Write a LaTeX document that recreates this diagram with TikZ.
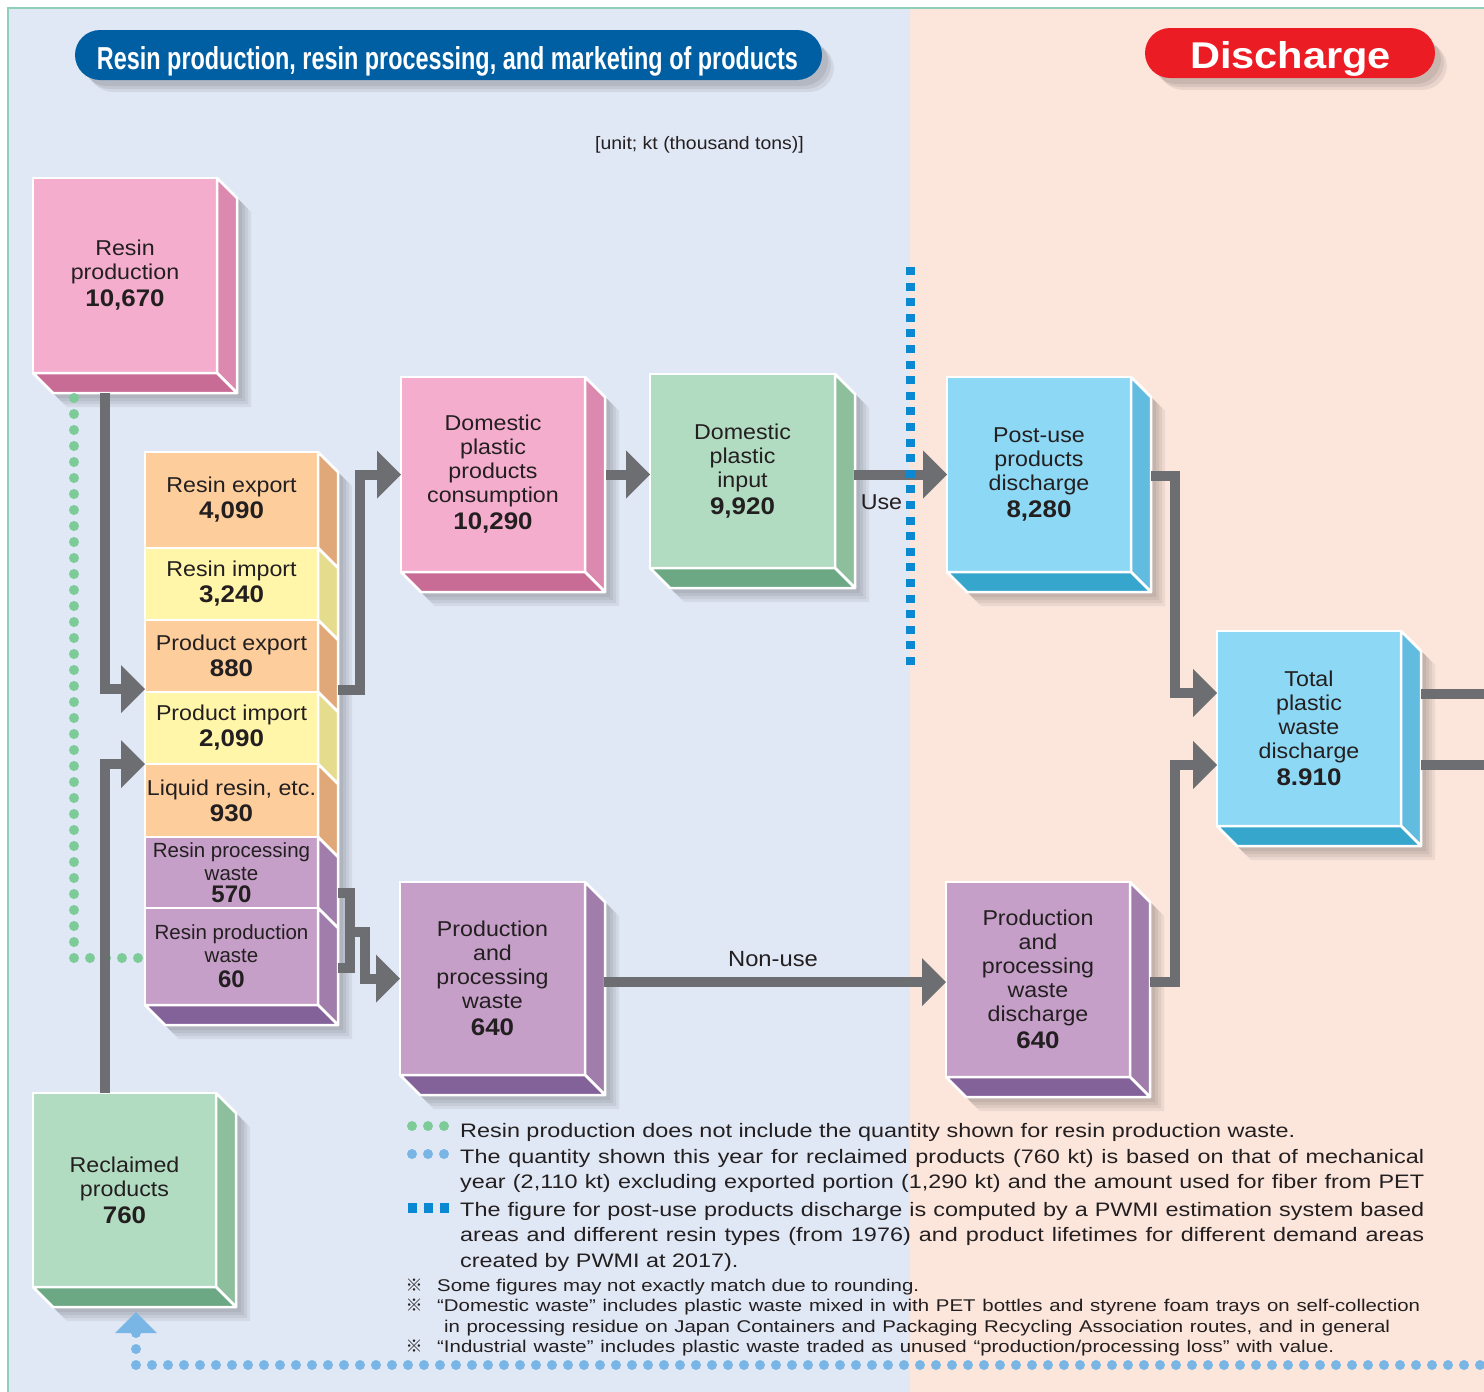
\documentclass[tikz,border=0pt]{standalone}
\usepackage{graphicx}
\usepackage{fontspec}
\setmainfont{Liberation Sans}[FakeStretch=1.08]
\newfontfamily\notefont{Liberation Sans}[FakeStretch=1.2]
\newfontfamily\plainfont{Liberation Sans}
\newfontfamily\cjkfont{Noto Sans CJK JP}
\usetikzlibrary{arrows.meta,calc}

\definecolor{bgblue}{HTML}{E1E8F5}
\definecolor{bgpeach}{HTML}{FCE6DC}
\definecolor{framegreen}{HTML}{8ED0B8}
\definecolor{titleblue}{HTML}{005FA3}
\definecolor{titlered}{HTML}{EC1C24}
\definecolor{arrowgrey}{HTML}{6D6E72}
\definecolor{txt}{HTML}{231F20}
\definecolor{pinkF}{HTML}{F4ADCD}\definecolor{pinkS}{HTML}{DB89AF}\definecolor{pinkB}{HTML}{C86C96}
\definecolor{orangeF}{HTML}{FDCE9C}\definecolor{orangeS}{HTML}{E0A878}
\definecolor{yellowF}{HTML}{FFF6AA}\definecolor{yellowS}{HTML}{E6DC8E}
\definecolor{purpleF}{HTML}{C59FC8}\definecolor{purpleS}{HTML}{A07DAB}\definecolor{purpleB}{HTML}{83629A}
\definecolor{greenF}{HTML}{B2DCC1}\definecolor{greenS}{HTML}{8DBF9C}\definecolor{greenB}{HTML}{6BA883}
\definecolor{blueF}{HTML}{8DD8F5}\definecolor{blueS}{HTML}{62BCE0}\definecolor{blueB}{HTML}{36A6CD}
\definecolor{dotgreen}{HTML}{7DCB98}
\definecolor{dotblue}{HTML}{79B6E5}
\definecolor{sqblue}{HTML}{0A88D2}

\newcommand\boxf{\fontsize{21.5}{24}\selectfont}
\newcommand\narrowf{\plainfont\fontsize{20.5}{23}\selectfont}
\newcommand\notef{\notefont\fontsize{19.5}{25}\selectfont}
\newcommand\smallnotef{\notefont\fontsize{17}{20}\selectfont}
\newcommand\numtxt[1]{{\fontsize{24}{26}\selectfont\bfseries #1}}

\tikzset{
  face/.style={draw=white, line width=2.5pt, inner sep=0pt, outer sep=0pt, align=center, text=txt, font=\boxf},
  facedge/.style={draw=white, line width=2.5pt, line join=round},
  flow/.style={draw=arrowgrey, line width=10pt, -{Triangle[length=24pt,width=48pt,line width=0pt]}},
  flowline/.style={draw=arrowgrey, line width=10pt},
  lbl/.style={inner sep=0pt, text=txt, font=\boxf},
  note/.style={inner sep=0pt, text=txt, font=\notef, anchor=base west},
  smallnote/.style={inner sep=0pt, text=txt, font=\smallnotef, anchor=base west},
  greendots/.style={draw=dotgreen, line width=10pt, line cap=round, dash pattern=on 0pt off 16pt},
  bluedots/.style={draw=dotblue, line width=10pt, line cap=round, dash pattern=on 0pt off 16pt},
}

% name, x1, y1, w, h, colour prefix, text
\newcommand\drawcube[7]{%
  \foreach \shd in {5,8,11,14}{%
    \fill[black,opacity=0.06] ({#2+\shd},{#3+\shd}) -- ++(#4,0) -- ++(20,20) -- ++(0,#5) -- ++(-#4,0) -- ++(-20,-20) -- cycle;}
  \node[face,fill=#6F,minimum width=#4pt,minimum height=#5pt,anchor=north west] (#1) at (#2,#3) {#7};
  \filldraw[facedge,fill=#6S] (#1.north east) -- ++(20,20) -- ++(0,#5) -- (#1.south east) -- cycle;
  \filldraw[facedge,fill=#6B] (#1.south west) -- (#1.south east) -- ++(20,20) -- ++(-#4,0) -- cycle;
}
\newcommand\rowside[3]{%
  \filldraw[facedge,fill=#3S] (#1.north east) -- ++(20,20) -- ++(0,#2) -- (#1.south east) -- cycle;
}

\begin{document}
\begin{tikzpicture}[x=1pt,y=-1pt]
\useasboundingbox (0,0) rectangle (1484,1392);
\clip (0,0) rectangle (1484,1392);
\fill[white] (0,0) rectangle (1484,1392);
\fill[bgblue] (8,8) rectangle (910,1392);
\fill[bgpeach] (910,8) rectangle (1484,1392);
\draw[framegreen,line width=2.5pt] (8,1392) -- (8,8) -- (1484,8);

% title pills
\foreach \k in {0,3,6}{\fill[black,opacity=0.07,rounded corners=25pt] ({82+\k},{38+\k}) rectangle ({828+\k},{86+\k});}
\fill[titleblue,rounded corners=25pt] (75,30) rectangle (822,80);
\node[anchor=base,text=white,inner sep=0pt] (title) at (447.5,69)
  {\resizebox{701pt}{23pt}{\bfseries Resin production, resin processing, and marketing of products}};
\foreach \k in {0,3,6}{\fill[black,opacity=0.07,rounded corners=25pt] ({1152+\k},{36+\k}) rectangle ({1441+\k},{84+\k});}
\fill[titlered,rounded corners=25pt] (1145,28) rectangle (1435,78);
\node[anchor=base,text=white,inner sep=0pt] (disc) at (1290.5,68)
  {\resizebox{201pt}{27pt}{\bfseries Discharge}};

\node[lbl,anchor=base west,font=\fontsize{18}{20}\selectfont] (unit) at (595,149) {[unit; kt (thousand tons)]};

% cubes
\drawcube{rp}{33}{178}{184}{195}{pink}{Resin\\production\\[3pt]\numtxt{10,670}}
\drawcube{dpc}{401}{377}{184}{195}{pink}{Domestic\\plastic\\products\\consumption\\[3pt]\numtxt{10,290}}
\drawcube{dpi}{650}{374}{185}{194}{green}{Domestic\\plastic\\input\\[3pt]\numtxt{9,920}}
\drawcube{pud}{947}{377}{184}{195}{blue}{Post-use\\products\\discharge\\[3pt]\numtxt{8,280}}
\drawcube{tot}{1217}{631}{184}{195}{blue}{Total\\plastic\\waste\\discharge\\[3pt]\numtxt{8.910}}
\drawcube{ppw}{400}{882}{185}{193}{purple}{Production\\and\\processing\\waste\\[3pt]\numtxt{640}}
\drawcube{ppwd}{946}{882}{184}{195}{purple}{Production\\and\\processing\\waste\\discharge\\[3pt]\numtxt{640}}
\drawcube{rc}{33}{1093}{183}{194}{green}{Reclaimed\\products\\[3pt]\numtxt{760}}

% stack of rows
\foreach \shd in {5,8,11,14}{%
  \fill[black,opacity=0.06] ({145+\shd},{452+\shd}) -- ++(173,0) -- ++(20,20) -- ++(0,553) -- ++(-173,0) -- ++(-20,-20) -- cycle;}
\node[face,fill=orangeF,minimum width=173pt,minimum height=96pt,anchor=north west] (re) at (145,452) {Resin export\\[2pt]\numtxt{4,090}};
\rowside{re}{96}{orange}
\node[face,fill=yellowF,minimum width=173pt,minimum height=72pt,anchor=north west] (ri) at (145,548) {Resin import\\[2pt]\numtxt{3,240}};
\rowside{ri}{72}{yellow}
\node[face,fill=orangeF,minimum width=173pt,minimum height=72pt,anchor=north west] (pe) at (145,620) {Product export\\[2pt]\numtxt{880}};
\rowside{pe}{72}{orange}
\node[face,fill=yellowF,minimum width=173pt,minimum height=72pt,anchor=north west] (pi) at (145,692) {Product import\\[2pt]\numtxt{2,090}};
\rowside{pi}{72}{yellow}
\node[face,fill=orangeF,minimum width=173pt,minimum height=73pt,anchor=north west] (lr) at (145,764) {Liquid resin, etc.\\[2pt]\numtxt{930}};
\rowside{lr}{73}{orange}
\node[face,font=\narrowf,fill=purpleF,minimum width=173pt,minimum height=71pt,anchor=north west] (rpw) at (145,837) {Resin processing\\waste\\[-1pt]\numtxt{570}};
\rowside{rpw}{71}{purple}
\node[face,font=\narrowf,fill=purpleF,minimum width=173pt,minimum height=97pt,anchor=north west] (rprw) at (145,908) {Resin production\\waste\\[2pt]\numtxt{60}};
\rowside{rprw}{97}{purple}
\filldraw[facedge,fill=purpleB] (rprw.south west) -- (rprw.south east) -- ++(20,20) -- ++(-173,0) -- cycle;

% dotted lines
\draw[greendots] ([xshift=-51pt,yshift=-25pt]rp.south) |- ([xshift=-6pt,yshift=-1.5pt]rprw.west);
\coordinate (recycle) at (1500,1365);
\draw[bluedots] ([xshift=11.5pt,yshift=-46pt]rc.south) |- (recycle);
\fill[dotblue] ([xshift=11.5pt,yshift=-25pt]rc.south) -- ++(21,21) -- ++(-42,0) -- cycle;

% flows
\draw[flow] ([xshift=-20pt,yshift=-20pt]rp.south) |- ([yshift=3pt]pe.south west);
\draw[flow] ([xshift=-19.5pt]rc.north) |- (pi.south west);
\draw[flow] ([xshift=20pt,yshift=2pt]pe.south east) -- ++(22,0) |- (dpc.west);
\draw[flow] ([xshift=21pt]dpc.east) -- (dpc.east -| dpi.west);
\draw[flow] ($(dpi.east |- pud.west)+(19,0)$) -- (pud.west);
\draw[flow] ([xshift=20pt,yshift=-1.5pt]pud.east) -- ++(24,0) |- ([yshift=35.5pt]tot.west);
\draw[flow] ([xshift=20pt,yshift=-2.5pt]ppwd.east) -- ++(25,0) |- ([yshift=-36.5pt]tot.west);
\draw[flowline] ([xshift=20pt,yshift=35pt]tot.east) -- ++(90,0);
\draw[flowline] ([xshift=20pt,yshift=-36.5pt]tot.east) -- ++(90,0);
\draw[flowline] ([xshift=20pt,yshift=15pt]rpw.south east) -- ++(12,0) -- ++(0,75) -- ++(-12,0);
\coordinate (brk) at ([xshift=32pt,yshift=-24pt]rpw.south east);
\draw[flow] (brk) -- ++(15,0) |- (ppw.west);
\draw[flow] ([xshift=19pt,yshift=-3.5pt]ppw.east) -- ([yshift=-2.5pt]ppwd.west);

\node[lbl,anchor=base] (use) at (881.5,509) {Use};
\node[lbl,anchor=base,font=\fontsize{22}{24}\selectfont] (nonuse) at (773,966) {Non-use};

% divider
\draw[sqblue,line width=9pt,dash pattern=on 8pt off 7.6pt] (910,267) -- (910,672);

% legend markers
\foreach \xx in {412,428,444}{%
  \fill[dotgreen] (\xx,1126) circle[radius=5pt];
  \fill[dotblue] (\xx,1154) circle[radius=5pt];
  \fill[sqblue] ({\xx-4.5},1203) rectangle ++(9,10);}

% notes
\node[note] (n1) at (460,1137) {Resin production does not include the quantity shown for resin production waste.};
\node[note] (n2) at (460,1163) {\makebox[964pt][s]{The quantity shown this year for reclaimed products (760 kt) is based on that of mechanical}};
\node[note] (n3) at (460,1188) {\makebox[964pt][s]{year (2,110 kt) excluding exported portion (1,290 kt) and the amount used for fiber from PET}};
\node[note] (n4) at (460,1216) {\makebox[964pt][s]{The figure for post-use products discharge is computed by a PWMI estimation system based}};
\node[note] (n5) at (460,1241) {\makebox[964pt][s]{areas and different resin types (from 1976) and product lifetimes for different demand areas}};
\node[note] (n6) at (460,1267) {created by PWMI at 2017).};

\node[smallnote,anchor=base] (m1) at (414,1291) {\cjkfont ※};
\node[smallnote] (s1) at (437,1291) {Some figures may not exactly match due to rounding.};
\node[smallnote,anchor=base] (m2) at (414,1311) {\cjkfont ※};
\node[smallnote] (s2) at (437,1311) {\makebox[983pt][s]{“Domestic waste” includes plastic waste mixed in with PET bottles and styrene foam trays on self-collection}};
\node[smallnote] (s3) at (444,1332) {\makebox[946pt][s]{in processing residue on Japan Containers and Packaging Recycling Association routes, and in general}};
\node[smallnote,anchor=base] (m3) at (414,1352) {\cjkfont ※};
\node[smallnote] (s4) at (437,1352) {\makebox[897pt][s]{“Industrial waste” includes plastic waste traded as unused “production/processing loss” with value.}};
\end{tikzpicture}
\end{document}
